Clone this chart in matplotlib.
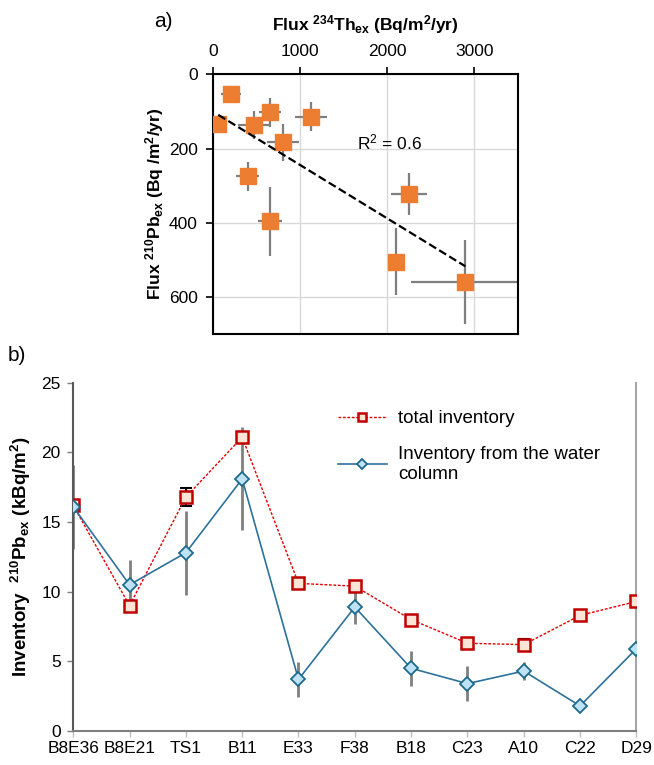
import numpy as np
import matplotlib
matplotlib.use("Agg")
from matplotlib import pyplot as plt

plt.rcParams['font.family'] = ['Liberation Sans', 'DejaVu Sans']
plt.rcParams['mathtext.default'] = 'regular'

# panel a) data: Th flux vs Pb flux
th_flux = [58, 205, 463, 656, 803, 1127, 394, 656, 2251, 2097, 2896]
th_err = [40, 115, 175, 125, 183, 183, 133, 139, 207, 0, 620]
pb_flux = [133, 53, 136, 102, 183, 114, 275, 396, 322, 505, 559]
pb_err = [20, 0, 38, 39, 50, 40, 40, 93, 56, 90, 114]

# panel b) data: inventories per station
stations = ["B8E36", "B8E21", "TS1", "B11", "E33", "F38", "B18", "C23", "A10", "C22", "D29"]
total_inv = [16.2, 9.0, 16.8, 21.1, 10.6, 10.4, 8.0, 6.3, 6.2, 8.3, 9.3]
total_err = [0.1, 0.3, 0.65, 0.3, 0.1, 0.4, 0.2, 0.3, 0.4, 0.2, 0.2]
water_inv = [16.1, 10.5, 12.8, 18.1, 3.7, 8.9, 4.5, 3.4, 4.3, 1.8, 5.9]
water_err = [3.0, 1.8, 3.0, 3.7, 1.25, 1.2, 1.25, 1.25, 0.65, 0.0, 1.6]

fig = plt.figure(figsize=(6.54, 7.65), dpi=100)

# ---- a)
ax1 = fig.add_axes([0.326, 0.563, 0.466, 0.340])
ax1.errorbar(th_flux, pb_flux, xerr=th_err, yerr=pb_err, fmt='none',
             ecolor='#7f7f7f', elinewidth=1.6, capsize=0, zorder=2)
ax1.plot(th_flux, pb_flux, 's', color='#ED7D31', markersize=11, zorder=3)
slope, icpt = np.polyfit(th_flux, pb_flux, 1)
xs = np.array([min(th_flux), max(th_flux)])
ax1.plot(xs, icpt + slope * xs, '--', color='black', lw=1.6, zorder=4)
ax1.text(1650, 185, "R$^2$ = 0.6", fontsize=12.5, va='center')
ax1.set_xlim(0, 3500)
ax1.set_ylim(700, 0)
ax1.set_xticks([0, 1000, 2000, 3000])
ax1.set_yticks([0, 200, 400, 600])
ax1.xaxis.tick_top()
ax1.xaxis.set_label_position('top')
ax1.grid(True, color='#d9d9d9', lw=1)
ax1.set_axisbelow(True)
ax1.tick_params(labelsize=12.5, length=5, width=1.2, pad=6)
for s in ax1.spines.values():
    s.set_linewidth(1.5)
ax1.set_xlabel("Flux $^{234}$Th$_{ex}$ (Bq/m$^2$/yr)", fontsize=12.5,
               fontweight='bold', labelpad=10)
ax1.set_ylabel("Flux $^{210}$Pb$_{ex}$ (Bq /m$^2$/yr)", fontsize=12.5,
               fontweight='bold', labelpad=2)
fig.text(0.235, 0.972, "a)", fontsize=15, va='center')

# ---- b)
ax2 = fig.add_axes([0.112, 0.0445, 0.861, 0.455])
xi = np.arange(len(stations))
ax2.errorbar(xi, water_inv, yerr=water_err, fmt='none', ecolor='#808080',
             elinewidth=2, capsize=0, zorder=2)
ax2.errorbar(xi, total_inv, yerr=total_err, fmt='none', ecolor='black',
             elinewidth=1.5, capsize=4, capthick=1.5, zorder=2)
ax2.plot(xi, total_inv, linestyle=(0, (2, 1.2)), color='#E00000', lw=1,
         marker='s', markersize=8, markerfacecolor='#FCE4D6',
         markeredgecolor='#C00000', markeredgewidth=1.8,
         label='total inventory', zorder=3)
ax2.plot(xi, water_inv, '-', color='#2E7199', lw=1.2,
         marker='D', markersize=7, markerfacecolor='#BDE3F5',
         markeredgecolor='#1F6A8C', markeredgewidth=1.3,
         label='Inventory from the water\ncolumn', zorder=4)
ax2.set_xlim(0, len(stations) - 1)
ax2.set_ylim(0, 25)
ax2.set_yticks([0, 5, 10, 15, 20, 25])
ax2.set_xticks(xi)
ax2.set_xticklabels(stations)
ax2.tick_params(labelsize=12.5, width=1, color='#7f7f7f')
ax2.tick_params(axis='y', length=4, pad=5)
ax2.tick_params(axis='x', length=4, pad=3, color='#bfbfbf')
ax2.spines['top'].set_visible(False)
ax2.spines['right'].set_color('#a6a6a6')
ax2.spines['left'].set_color('#595959')
ax2.spines['bottom'].set_color('#7f7f7f')
for s in ax2.spines.values():
    s.set_linewidth(1.5)
ax2.set_ylabel("Inventory  $^{210}$Pb$_{ex}$ (kBq/m$^2$)", fontsize=13.5,
               fontweight='bold', labelpad=6)
ax2.legend(loc='upper left', bbox_to_anchor=(0.44, 0.97), frameon=False,
           fontsize=13.5, handlelength=2.6, labelspacing=1.0,
           markerscale=0.75, handletextpad=0.6)
fig.text(0.012, 0.535, "b)", fontsize=15, va='center')

fig.savefig("out.png", dpi=100)
